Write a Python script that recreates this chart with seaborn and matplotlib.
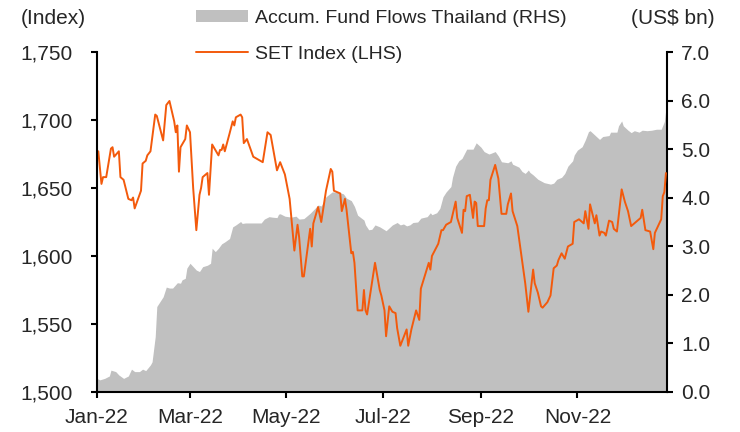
import pandas as pd
import seaborn as sns
import matplotlib.pyplot as plt
import matplotlib.dates as mdates
from matplotlib.patches import Patch
from matplotlib.lines import Line2D

# SET index (LHS), day offsets from 1 Jan 2022
set_day = [1, 3, 4, 6, 9, 10, 11, 14, 15, 17,
           20, 22, 23, 24, 28, 29, 31, 32, 34, 37,
           38, 42, 44, 46, 49, 50, 51, 52, 53, 56,
           57, 59, 61, 63, 65, 66, 67, 70, 71, 73,
           77, 78, 79, 80, 81, 84, 86, 87, 88, 91,
           92, 93, 95, 99, 105, 108, 110, 114, 116, 119,
           122, 125, 127, 128, 130, 131, 135, 136, 137, 140,
           142, 145, 148, 149, 150, 154, 155, 157, 158, 161,
           162, 163, 165, 168, 169, 170, 171, 174, 176, 179,
           180, 182, 183, 185, 187, 189, 190, 192, 196, 197,
           199, 202, 204, 205, 210, 211, 212, 216, 218, 219,
           221, 224, 227, 228, 231, 232, 233, 234, 236, 238,
           239, 240, 241, 245, 246, 247, 248, 249, 252, 254,
           256, 259, 260, 262, 263, 266, 269, 271, 273, 275,
           276, 277, 279, 281, 282, 285, 287, 289, 290, 291,
           292, 294, 296, 298, 301, 302, 305, 308, 309, 311,
           312, 315, 316, 318, 319, 321, 322, 324, 326, 327,
           329, 332, 334, 336, 338, 340, 344, 345, 347, 350,
           352, 353, 355, 357, 358, 359, 360]
set_val = [1677, 1653, 1658, 1658, 1679, 1680, 1673, 1677, 1658, 1656,
           1642, 1641, 1643, 1635, 1648, 1668, 1670, 1674, 1677, 1704,
           1703, 1685, 1711, 1714, 1699, 1691, 1696, 1662, 1680, 1686,
           1696, 1691, 1650, 1619, 1645, 1650, 1658, 1661, 1645, 1682,
           1674, 1678, 1678, 1682, 1677, 1690, 1699, 1696, 1702, 1704,
           1702, 1683, 1686, 1673, 1669, 1691, 1689, 1663, 1669, 1660,
           1642, 1604, 1623, 1614, 1585, 1585, 1620, 1607, 1624, 1636,
           1625, 1648, 1664, 1662, 1648, 1646, 1633, 1642, 1634, 1602,
           1603, 1595, 1560, 1560, 1575, 1560, 1557, 1580, 1595, 1575,
           1571, 1560, 1541, 1563, 1559, 1558, 1547, 1534, 1546, 1534,
           1546, 1560, 1553, 1576, 1595, 1590, 1600, 1609, 1619, 1619,
           1623, 1625, 1640, 1628, 1617, 1634, 1633, 1644, 1645, 1628,
           1640, 1639, 1622, 1622, 1635, 1641, 1641, 1656, 1667, 1657,
           1631, 1631, 1638, 1646, 1633, 1622, 1597, 1580, 1559, 1580,
           1590, 1580, 1573, 1563, 1562, 1566, 1571, 1591, 1592, 1593,
           1597, 1602, 1598, 1607, 1609, 1625, 1627, 1624, 1633, 1620,
           1638, 1624, 1630, 1615, 1618, 1617, 1615, 1626, 1625, 1620,
           1618, 1649, 1640, 1633, 1622, 1624, 1628, 1634, 1619, 1618,
           1605, 1617, 1622, 1627, 1644, 1647, 1661]

# accumulated fund flows (RHS, US$ bn)
flow_day = [0, 2, 5, 8, 9, 12, 14, 17, 20, 22,
            24, 27, 29, 31, 34, 35, 37, 38, 40, 42,
            44, 46, 48, 51, 53, 54, 56, 57, 59, 61,
            63, 65, 67, 70, 72, 73, 75, 77, 79, 81,
            84, 86, 88, 91, 92, 94, 98, 104, 106, 109,
            111, 114, 115, 116, 119, 123, 126, 128, 131, 135,
            138, 140, 142, 145, 149, 153, 156, 158, 161, 163,
            165, 169, 170, 172, 174, 176, 179, 183, 187, 190,
            192, 194, 196, 198, 200, 203, 205, 209, 211, 212,
            215, 217, 219, 221, 224, 225, 227, 229, 231, 234,
            238, 240, 243, 245, 248, 249, 252, 254, 256, 260,
            262, 263, 267, 269, 271, 273, 274, 276, 279, 283,
            287, 289, 291, 294, 296, 298, 301, 302, 304, 307,
            309, 311, 312, 314, 316, 318, 320, 324, 325, 329,
            330, 332, 333, 336, 338, 340, 343, 345, 348, 351,
            354, 357, 359, 360]
flow_val = [0.28, 0.25, 0.28, 0.33, 0.45, 0.42, 0.35, 0.28, 0.33, 0.47,
            0.42, 0.42, 0.47, 0.44, 0.56, 0.62, 1.14, 1.76, 1.86, 1.96,
            2.16, 2.14, 2.14, 2.25, 2.24, 2.31, 2.34, 2.55, 2.65, 2.58,
            2.51, 2.48, 2.58, 2.61, 2.65, 2.96, 2.89, 2.96, 3.05, 3.09,
            3.16, 3.40, 3.44, 3.51, 3.47, 3.48, 3.48, 3.48, 3.56, 3.61,
            3.60, 3.59, 3.66, 3.67, 3.62, 3.60, 3.62, 3.56, 3.57, 3.68,
            3.78, 3.85, 3.83, 4.02, 4.12, 4.11, 4.08, 3.99, 3.94, 3.82,
            3.64, 3.54, 3.44, 3.34, 3.35, 3.44, 3.40, 3.32, 3.44, 3.49,
            3.44, 3.46, 3.42, 3.44, 3.49, 3.50, 3.58, 3.61, 3.69, 3.65,
            3.69, 3.78, 4.02, 4.12, 4.23, 4.42, 4.65, 4.76, 4.81, 5.00,
            5.00, 5.13, 5.04, 4.95, 4.90, 4.91, 4.95, 4.86, 4.74, 4.72,
            4.76, 4.69, 4.63, 4.54, 4.50, 4.57, 4.52, 4.47, 4.38, 4.31,
            4.28, 4.30, 4.38, 4.42, 4.50, 4.65, 4.76, 4.88, 4.98, 5.05,
            5.19, 5.36, 5.38, 5.32, 5.26, 5.20, 5.26, 5.28, 5.35, 5.35,
            5.48, 5.58, 5.48, 5.39, 5.34, 5.38, 5.35, 5.39, 5.38, 5.39,
            5.41, 5.41, 5.57, 5.84]

start = pd.Timestamp('2022-01-01')
set_df = pd.DataFrame({'date': start + pd.to_timedelta(set_day, unit='D'), 'SET': set_val})
flow_df = pd.DataFrame({'date': start + pd.to_timedelta(flow_day, unit='D'), 'flow': flow_val})

orange = '#F35A0C'
grey = '#C0C0C0'

sns.set_style('white')
plt.rcParams['font.family'] = ['Liberation Sans', 'DejaVu Sans']
plt.rcParams['font.size'] = 15

fig = plt.figure(figsize=(7.4, 4.32), dpi=100)
ax = fig.add_axes([0.1307, 0.0926, 0.7703, 0.787])
axr = ax.twinx()

axr.fill_between(flow_df['date'], flow_df['flow'], 0, color=grey, lw=0)
sns.lineplot(data=set_df, x='date', y='SET', ax=ax, color=orange, lw=1.4)

ax.set_zorder(axr.get_zorder() + 1)
ax.patch.set_visible(False)

ax.set_ylim(1500, 1750)
ax.set_yticks([1500, 1550, 1600, 1650, 1700, 1750])
ax.set_yticklabels(['1,500', '1,550', '1,600', '1,650', '1,700', '1,750'])
axr.set_ylim(0, 7)
axr.set_yticks(range(8))
axr.set_yticklabels([f'{v:.1f}' for v in range(8)])

ax.set_xlim(start, start + pd.Timedelta(days=360.5))
ax.xaxis.set_major_locator(mdates.MonthLocator(bymonth=[1, 3, 5, 7, 9, 11]))
ax.xaxis.set_major_formatter(mdates.DateFormatter('%b-%y'))
ax.set_xlabel('')
ax.set_ylabel('')

for a in (ax, axr):
    a.spines['top'].set_visible(False)
    for s in ('left', 'right', 'bottom'):
        a.spines[s].set_color('black')
        a.spines[s].set_linewidth(1.5)
    a.tick_params(direction='out', length=4.5, width=1.5, color='black', labelsize=15)
ax.spines['right'].set_visible(False)
axr.spines['left'].set_visible(False)
axr.spines['bottom'].set_visible(False)
ax.tick_params(axis='y', left=True, pad=13)
ax.tick_params(axis='x', bottom=True, pad=7)
axr.tick_params(axis='y', right=True, pad=6)

fig.text(0.028, 0.958, '(Index)', ha='left', va='center', fontsize=15)
fig.text(0.966, 0.958, '(US$ bn)', ha='right', va='center', fontsize=15)

handles = [Patch(facecolor=grey, edgecolor='none'),
           Line2D([0], [0], color=orange, lw=1.4)]
labels = ['Accum. Fund Flows Thailand (RHS)', 'SET Index (LHS)']
fig.legend(handles, labels, loc='upper left', bbox_to_anchor=(0.255, 0.996),
           frameon=False, fontsize=14, handlelength=2.65, handleheight=0.57,
           handletextpad=0.36, labelspacing=0.98, borderaxespad=0)

fig.savefig('out.png', dpi=100)
